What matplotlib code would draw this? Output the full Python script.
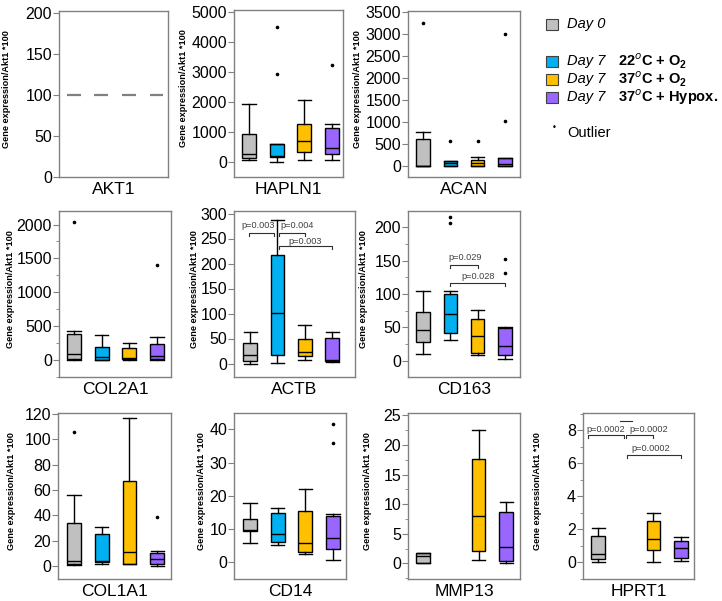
import numpy as np
import matplotlib.pyplot as plt
from matplotlib.ticker import AutoMinorLocator

plt.rcParams['mathtext.fontset'] = 'custom'
plt.rcParams['mathtext.rm'] = 'Liberation Sans:bold'
plt.rcParams['mathtext.bf'] = 'Liberation Sans:bold'

# box stats per group: [whislo, q1, med, q3, whishi]; groups = Day0, 22C+O2, 37C+O2, 37C+Hypox
akt1_box = [[100, 100, 100, 100, 100]] * 4
akt1_out = [[], [], [], []]

hapln1_box = [[56, 122, 267, 923, 1923], [0, 156, 211, 600, 600],
              [67, 322, 711, 1267, 2070], [56, 267, 478, 1122, 1256]]
hapln1_out = [[], [2920, 4500], [], [3250]]

acan_box = [[0, 0, 0, 609, 776], [0, 5, 60, 107, 110],
            [0, 0, 76, 145, 205], [0, 0, 53, 183, 183]]
acan_out = [[3265], [563], [563], [1027, 3000]]

col2a1_box = [[0, 10, 84, 378, 428], [0, 0, 39, 187, 369],
              [0, 10, 25, 172, 246], [0, 10, 64, 231, 344]]
col2a1_out = [[2040], [], [], [1400]]

actb_box = [[0, 4.6, 16.6, 41, 63], [1, 17, 102, 218, 288],
            [6.6, 14.6, 22.6, 48.5, 78], [3, 4.6, 8, 52, 64]]
actb_out = [[], [], [], []]

cd163_box = [[11, 28, 46, 73, 104.5], [32, 42, 70.6, 100.5, 105],
             [8.5, 12.4, 37, 62, 75.6], [2.5, 9.5, 23, 49, 50]]
cd163_out = [[], [206, 215], [], [131, 152]]

col1a1_box = [[0.5, 1.6, 4.2, 34, 55.8], [1.6, 3.4, 4.2, 24.9, 30.4],
              [1.6, 1.6, 10.7, 66.8, 116.6], [0, 1.6, 5.5, 10, 11.8]]
col1a1_out = [[106], [], [], [38.3]]

cd14_box = [[5.9, 9.5, 9.7, 13, 17.9], [5.2, 6.2, 8.4, 14.7, 16.2],
            [2.4, 3.2, 5.7, 15.5, 22.2], [0.7, 4, 7.2, 13.9, 14.4]]
cd14_out = [[], [], [], [35.9, 41.5]]

mmp13_box = [[0, 0, 1.3, 1.8, 1.8], None,
             [0.56, 2.1, 8, 17.7, 22.6], [0.1, 0.4, 2.7, 8.7, 10.3]]
mmp13_out = [[], [], [], []]

hprt1_box = [[0.0, 0.2, 0.54, 1.6, 2.1], None,
             [0.04, 0.75, 1.41, 2.52, 3.0], [0.1, 0.28, 0.85, 1.31, 1.55]]
hprt1_out = [[], [], [], []]

colors = ['#C0C0C0', '#00B0F0', '#FFC000', '#9966FF']

# panel layout in pixels: name, data, outliers, (l, t, r, b), xlim, ylim, ytick step, ylabel x
panels = [
    ('AKT1', akt1_box, akt1_out, (59, 11, 168, 177), (0.47, 4.42), (0, 202), 50, 7),
    ('HAPLN1', hapln1_box, hapln1_out, (234, 10, 343, 177), (0.46, 4.40), (-500, 5070), 1000, 184),
    ('ACAN', acan_box, acan_out, (408, 11, 520, 177), (0.45, 4.55), (-250, 3530), 500, 357),
    ('COL2A1', col2a1_box, col2a1_out, (59, 211, 171, 377), (0.46, 4.5), (-250, 2200), 500, 11),
    ('ACTB', actb_box, actb_out, (234, 211, 355, 377), (0.41, 4.84), (-27, 305), 50, 195),
    ('CD163', cd163_box, cd163_out, (408, 211, 520, 377), (0.45, 4.55), (-24, 224), 50, 364),
    ('COL1A1', col1a1_box, col1a1_out, (58, 413, 171, 579), (0.42, 4.5), (-10.2, 120.6), 20, 12),
    ('CD14', cd14_box, cd14_out, (234, 413, 346, 579), (0.42, 4.47), (-5, 44.9), 10, 202),
    ('MMP13', mmp13_box, mmp13_out, (408, 413, 520, 579), (0.45, 4.5), (-2.64, 25.4), 5, 367),
    ('HPRT1', hprt1_box, hprt1_out, (583, 413, 694, 579), (0.45, 4.47), (-1.0, 9.05), 2, 537),
]
minor_on = ['COL2A1', 'CD163', 'MMP13', 'HPRT1']

W, H = 722, 601
fig = plt.figure(figsize=(W / 100, H / 100), dpi=100)
tick_font = ['Liberation Sans Narrow', 'Liberation Sans', 'DejaVu Sans']

axes = {}
for name, boxes, outs, (l, t, r, b), xl, yl, step, lx in panels:
    ax = fig.add_axes([l / W, 1 - b / H, (r - l) / W, (b - t) / H])
    axes[name] = ax
    stats, pos, cols = [], [], []
    for i, bx in enumerate(boxes):
        if bx is None:
            continue
        stats.append(dict(whislo=bx[0], q1=bx[1], med=bx[2], q3=bx[3], whishi=bx[4],
                          fliers=outs[i]))
        pos.append(i + 1)
        cols.append(colors[i])
    if name == 'AKT1':
        ax.bxp(stats, positions=pos, widths=0.5, patch_artist=True, showcaps=False,
               boxprops=dict(facecolor='none', edgecolor='none'),
               whiskerprops=dict(color='none'),
               medianprops=dict(color='#808080', lw=1.6))
    else:
        bp = ax.bxp(stats, positions=pos, widths=0.5, patch_artist=True, capwidths=0.48,
                    boxprops=dict(edgecolor='black', lw=1),
                    whiskerprops=dict(color='black', lw=1),
                    capprops=dict(color='black', lw=1),
                    medianprops=dict(color='black', lw=1),
                    flierprops=dict(marker='o', markersize=1.6, markerfacecolor='black',
                                    markeredgecolor='black'))
        for patch, c in zip(bp['boxes'], cols):
            patch.set_facecolor(c)
    ax.set_xlim(xl)
    ax.set_ylim(yl)
    ax.set_yticks(np.arange(0, yl[1] + 1e-9, step))
    if name in minor_on:
        ax.yaxis.set_minor_locator(AutoMinorLocator(2))
    ax.set_xticks([])
    for s in ax.spines.values():
        s.set_color('#808080')
        s.set_linewidth(1)
    ax.tick_params(axis='y', which='major', length=4, color='#808080', labelsize=11.5, pad=1)
    ax.tick_params(axis='y', which='minor', length=2, color='#808080')
    for lab in ax.get_yticklabels():
        lab.set_family(tick_font)
    cy = (t + b) / 2 - 5
    fig.text(lx / W, 1 - cy / H, 'Gene expression/Akt1 *100', rotation=90, ha='center',
             va='center', fontsize=6.6, fontweight='bold', family='Liberation Sans')
    ty = 190 if t < 100 else (390 if t < 300 else 591)
    fig.text(((l + r) / 2) / W, 1 - ty / H, name, ha='center', va='center', fontsize=12.5,
             family='Liberation Sans')


def bracket(ax, x1, x2, y, tip, label, tx, ty):
    ax.plot([x1, x1, x2, x2], [y - tip, y, y, y - tip], color='#303030', lw=0.8)
    ax.text(tx, ty, label, ha='center', va='center', fontsize=6.6, color='#404040',
            family='Liberation Sans')


ax = axes['ACTB']
bracket(ax, 0.96, 1.88, 262, 6, 'p=0.003', 1.31, 275)
bracket(ax, 2.05, 3.0, 262, 6, 'p=0.004', 2.72, 275)
bracket(ax, 2.05, 4.0, 235, 6, 'p=0.003', 3.0, 245)

ax = axes['CD163']
bracket(ax, 2.0, 3.0, 144, 5, 'p=0.029', 2.53, 154)
bracket(ax, 2.0, 4.0, 117, 5, 'p=0.028', 3.0, 126)

ax = axes['HPRT1']
bracket(ax, 0.64, 1.95, 7.74, 0.2, 'p=0.0002', 1.27, 8.04)
bracket(ax, 2.02, 3.0, 7.74, 0.2, 'p=0.0002', 2.82, 8.04)
bracket(ax, 2.05, 4.0, 6.53, 0.2, 'p=0.0002', 2.9, 6.89)
ax.plot([1.8, 2.24], [8.54, 8.54], color='#303030', lw=0.8)

# legend drawn as figure text and squares
leg_y = [24, 61, 79, 97]
for c, y in zip(colors, leg_y):
    fig.patches.append(plt.Rectangle((546 / W, 1 - (y + 5.5) / H), 12 / W, 11 / H,
                                     facecolor=c, edgecolor='#404040', lw=0.8,
                                     transform=fig.transFigure, figure=fig))
fig.text(567 / W, 1 - 24 / H, 'Day 0', style='italic', fontsize=10.5, va='center',
         family='Liberation Sans')
cond = ['22$^{o}$C + O$_{2}$', '37$^{o}$C + O$_{2}$', '37$^{o}$C + Hypox.']
for lab, y in zip(cond, leg_y[1:]):
    fig.text(567 / W, 1 - y / H, 'Day 7', style='italic', fontsize=10.5, va='center',
             family='Liberation Sans')
    fig.text(618 / W, 1 - y / H, lab, fontsize=10.5, fontweight='bold', va='center',
             family='Liberation Sans')
fig.text(554 / W, 1 - 128 / H, '•', fontsize=6, ha='center', va='center')
fig.text(567 / W, 1 - 133 / H, 'Outlier', fontsize=10.5, va='center',
         family='Liberation Sans')

fig.savefig('out.png', dpi=100)
